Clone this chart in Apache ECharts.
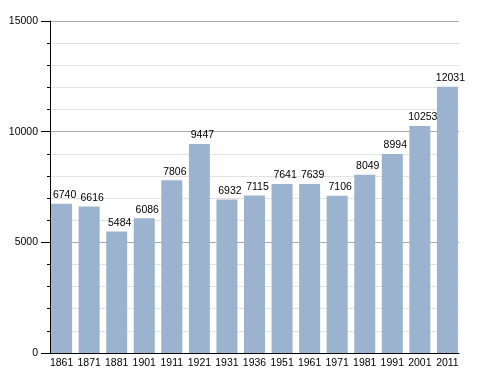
<!DOCTYPE html>
<html><head><meta charset="utf-8">
<script src="https://cdn.jsdelivr.net/npm/echarts@6/dist/echarts.min.js"></script>
<style>html,body{margin:0;padding:0;background:#fff}#c{width:488px;height:373px}</style>
</head><body><div id="c"></div>
<script>
const years = ['1861','1871','1881','1901','1911','1921','1931','1936','1951','1961','1971','1981','1991','2001','2011'];
const population = [6740,6616,5484,6086,7806,9447,6932,7115,7641,7639,7106,8049,8994,10253,12031];
const yTicks = [0,5000,10000,15000];

const chart = echarts.init(document.getElementById('c'), null, {renderer:'canvas'});
const font = 'Liberation Sans, Arial, sans-serif';
chart.setOption({
  animation:false,
  grid:{left:50,top:21,width:409,height:332,containLabel:false},
  xAxis:{
    type:'value', min:-0.42, max:14.42,
    axisLine:{show:true,onZero:false,lineStyle:{color:'#000',width:1}},
    axisTick:{show:false},
    splitLine:{show:false},
    axisLabel:{customValues:years.map((y,i)=>i), formatter:v=>years[Math.round(v)]||'', color:'#000', fontFamily:font, fontSize:10.5, margin:5}
  },
  yAxis:{
    type:'value', min:yTicks[0], max:yTicks[yTicks.length-1], interval:5000,
    axisLine:{show:true,onZero:false,lineStyle:{color:'#000',width:1}},
    axisTick:{show:true,length:9,lineStyle:{color:'#000'}},
    minorTick:{show:true,splitNumber:5,length:3,lineStyle:{color:'#000'}},
    splitLine:{show:true,lineStyle:{color:'#aaa',width:1}},
    minorSplitLine:{show:true,lineStyle:{color:'#e2e2e2',width:1}},
    axisLabel:{color:'#000',fontFamily:font,fontSize:10.5,margin:12,formatter:v=>String(v)}
  },
  series:[{
    type:'bar',
    data:population.map((v,i)=>[i,v]),
    barWidth:21,
    itemStyle:{color:'#9bb3cf'},
    label:{show:true,position:'top',distance:3,offset:[3,0],color:'#000',fontFamily:font,fontSize:10.5,formatter:p=>p.value[1]}
  }]
});
</script></body></html>
